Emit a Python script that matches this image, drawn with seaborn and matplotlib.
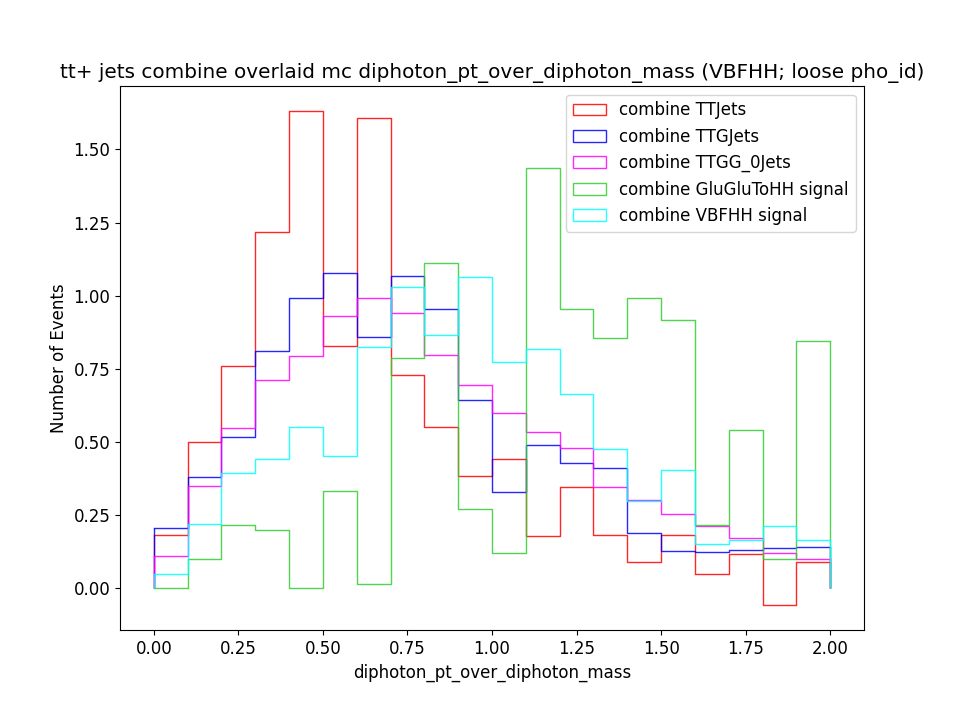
import numpy as np
import pandas as pd
import seaborn as sns
import matplotlib.pyplot as plt
from matplotlib.patches import Patch

# bin edges of the histogram (0 -> 2.0, width 0.1)
bin_edges = [0.0, 0.1, 0.2, 0.3, 0.4, 0.5, 0.6, 0.7, 0.8, 0.9, 1.0,
             1.1, 1.2, 1.3, 1.4, 1.5, 1.6, 1.7, 1.8, 1.9, 2.0]

# normalised event yields per bin
ttjets = [0.183, 0.501, 0.760, 1.219, 1.631, 0.829, 1.607, 0.729, 0.552, 0.384,
          0.440, 0.179, 0.346, 0.183, 0.090, 0.183, 0.047, 0.118, -0.059, 0.090]
ttgjets = [0.207, 0.380, 0.515, 0.812, 0.993, 1.077, 0.857, 1.066, 0.953, 0.642,
           0.330, 0.490, 0.429, 0.409, 0.188, 0.127, 0.123, 0.130, 0.138, 0.141]
ttgg_0jets = [0.111, 0.349, 0.548, 0.710, 0.795, 0.932, 0.993, 0.940, 0.798, 0.696,
              0.599, 0.534, 0.479, 0.346, 0.302, 0.253, 0.212, 0.172, 0.120, 0.099]
gluglutohh = [0.0, 0.100, 0.216, 0.199, 0.0, 0.333, 0.015, 0.785, 1.113, 0.272,
              0.121, 1.435, 0.953, 0.854, 0.993, 0.916, 0.216, 0.541, 0.100, 0.844]
vbfhh = [0.049, 0.219, 0.392, 0.440, 0.552, 0.450, 0.823, 1.031, 0.864, 1.062,
         0.772, 0.816, 0.665, 0.474, 0.299, 0.404, 0.152, 0.165, 0.212, 0.165]

labels = ['combine TTJets', 'combine TTGJets', 'combine TTGG_0Jets',
          'combine GluGluToHH signal', 'combine VBFHH signal']
colors = ['red', 'blue', 'magenta', 'limegreen', 'cyan']
series = [ttjets, ttgjets, ttgg_0jets, gluglutohh, vbfhh]

plt.rcParams['font.size'] = 12

edges = np.array(bin_edges)
centers = (edges[:-1] + edges[1:]) / 2
width = edges[1] - edges[0]

fig, ax = plt.subplots(figsize=(9.6, 7.2), dpi=100)
fig.subplots_adjust(bottom=0.125)

for vals, col in zip(series, colors):
    df = pd.DataFrame({'x': centers, 'w': vals})
    sns.histplot(data=df, x='x', weights='w', binwidth=width,
                 binrange=(edges[0], edges[-1]), element='step', fill=False,
                 color=col, alpha=0.85, linewidth=1, ax=ax)
    # close the step outline down to zero at both ends, like histtype='step'
    ax.vlines([edges[0], edges[-1]], 0, [vals[0], vals[-1]],
              color=col, alpha=0.85, linewidth=1)

handles = [Patch(facecolor='none', edgecolor=c, alpha=0.85, label=l)
           for c, l in zip(colors, labels)]
ax.legend(handles=handles, loc='upper right')

ax.set_title('tt+ jets combine overlaid mc diphoton_pt_over_diphoton_mass (VBFHH; loose pho_id)')
ax.set_xlabel('diphoton_pt_over_diphoton_mass')
ax.set_ylabel('Number of Events')

plt.savefig('out.png', dpi=100)
